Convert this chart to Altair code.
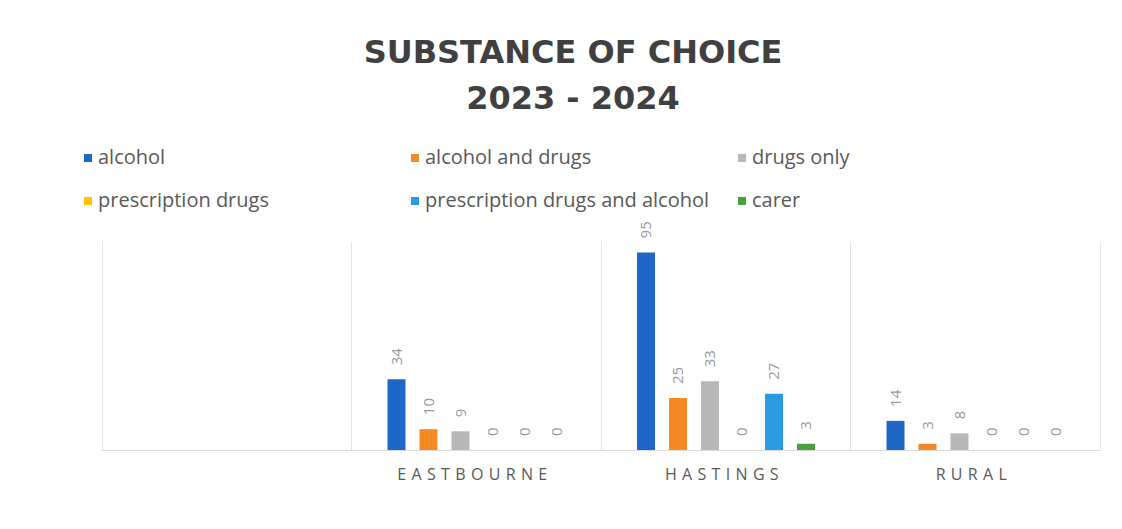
import altair as alt
import pandas as pd

categories = ["EASTBOURNE", "HASTINGS", "RURAL"]
axis_domain = [" ", "EASTBOURNE", "HASTINGS", "RURAL"]
series = ["alcohol", "alcohol and drugs", "drugs only",
          "prescription drugs", "prescription  drugs and alcohol", "carer"]
alcohol = [34, 95, 14]
alcohol_and_drugs = [10, 25, 3]
drugs_only = [9, 33, 8]
prescription_drugs = [0, 0, 0]
prescription_drugs_and_alcohol = [0, 27, 0]
carer = [0, 3, 0]
colors = ["#1F67C6", "#F58A25", "#B8B8B8", "#FFC000", "#2B9AE0", "#4AA03F"]

values = [alcohol, alcohol_and_drugs, drugs_only, prescription_drugs,
          prescription_drugs_and_alcohol, carer]
rows = []
for s, vals in zip(series, values):
    for c, v in zip(categories, vals):
        rows.append({"area": c, "substance": s, "count": v})
df = pd.DataFrame(rows)

FONT = "Open Sans"

x = alt.X("area:N", scale=alt.Scale(domain=axis_domain, paddingInner=0, paddingOuter=0),
          sort=axis_domain,
          axis=alt.Axis(title=None, labelAngle=0, ticks=False, grid=True, bandPosition=0,
                        gridColor="#e4e4e4", domainColor="#d9d9d9", labelPadding=16,
                        labelOffset=-4,
                        labelFontSize=16, labelColor="#595959", labelFont=FONT,
                        labelExpr="join(split(datum.label, ''), '\u2004')"))
xo = alt.XOffset("substance:N", sort=series,
                 scale=alt.Scale(domain=series, range=[36, 214],
                                 paddingInner=0.4375, paddingOuter=0))
y = alt.Y("count:Q", scale=alt.Scale(domain=[0, 100]),
          axis=alt.Axis(title=None, orient="right", labels=False, ticks=False, grid=False,
                        domainColor="#e4e4e4"))

bars = alt.Chart(df).mark_bar().encode(
    x=x, xOffset=xo, y=y,
    color=alt.Color("substance:N", sort=series,
                    scale=alt.Scale(domain=series, range=colors),
                    legend=alt.Legend(title=None, orient="none", direction="horizontal",
                                      legendX=-24, legendY=-94,
                                      columns=3, gridAlign="all", columnPadding=17,
                                      rowPadding=23, symbolType="square", symbolSize=64,
                                      symbolStrokeWidth=0, labelFontSize=20,
                                      labelFont=FONT, labelColor="#595959",
                                      labelOffset=0, labelLimit=400)),
)

labels = alt.Chart(df).mark_text(angle=270, align="left", baseline="middle", dx=14,
                                 fontSize=15, color="#9a9a9a", font=FONT).encode(
    x=x, xOffset=xo, y=y, text=alt.Text("count:Q"))

chart = alt.layer(bars, labels).properties(
    width=998, height=208,
    padding={"left": 94, "top": 234, "right": 14, "bottom": 63},
    autosize="none",
    title=alt.TitleParams(["SUBSTANCE OF CHOICE", "2023 - 2024"], fontSize=32,
                          font="DejaVu Sans", fontWeight="bold", color="#404040",
                          lineHeight=46, anchor="middle", dx=-28, dy=-22, offset=10),
).configure_view(stroke=None)

chart.save("out.html", embed_options={"renderer": "svg", "actions": False})
